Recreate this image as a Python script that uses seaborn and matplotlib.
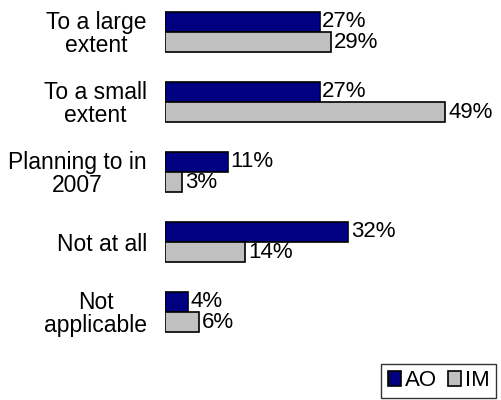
import numpy as np
import pandas as pd
import matplotlib
matplotlib.use("Agg")
import matplotlib.pyplot as plt
import seaborn as sns

categories = ["To a large\nextent", "To a small\nextent", "Planning to in\n2007", "Not at all", "Not\napplicable"]
ao_values = [27, 27, 11, 32, 4]
im_values = [29, 49, 3, 14, 6]
series = ["AO", "IM"]
colors = ["#000080", "#C0C0C0"]

df = pd.DataFrame({
    "category": categories * 2,
    "value": ao_values + im_values,
    "series": ["AO"] * len(categories) + ["IM"] * len(categories),
})

sns.set_style("white")
plt.rcParams["font.family"] = ["Liberation Sans", "DejaVu Sans"]
plt.rcParams["text.color"] = "black"
plt.rcParams["ytick.color"] = "black"

fig = plt.figure(figsize=(5.02, 4.0), dpi=100)
ax = fig.add_axes([165 / 502, 40 / 400, 332 / 502, 360 / 400])

sns.barplot(data=df, x="value", y="category", hue="series", order=categories,
            hue_order=series, palette=colors, saturation=1, width=0.58,
            edgecolor="black", linewidth=1.2, orient="h", ax=ax, legend=False)

for cont in ax.containers:
    ax.bar_label(cont, labels=[f"{int(v)}%" for v in cont.datavalues],
                 padding=2, fontsize=16, color="black")

ax.set_xlim(0, 58)
ax.set_ylim(4.686, -0.457)
ax.set_xlabel("")
ax.set_ylabel("")
ax.set_xticks([])
ax.tick_params(axis="y", length=0, pad=13, labelsize=16.5, labelcolor="black")
for lbl in ax.get_yticklabels():
    lbl.set_multialignment("center")
    lbl.set_linespacing(0.95)
for s in ax.spines.values():
    s.set_visible(False)

handles = [plt.Rectangle((0, 0), 1, 1, facecolor=c, edgecolor="black", linewidth=1.2) for c in colors]
fig.legend(handles, series, loc="lower right", bbox_to_anchor=(496 / 502, 2 / 400),
           ncol=2, fontsize=16, frameon=True, fancybox=False, edgecolor="black",
           handlelength=0.6, handleheight=0.6, handletextpad=0.15, columnspacing=0.5,
           borderpad=0.3, borderaxespad=0, labelcolor="black")

fig.savefig("out.png", dpi=100)
